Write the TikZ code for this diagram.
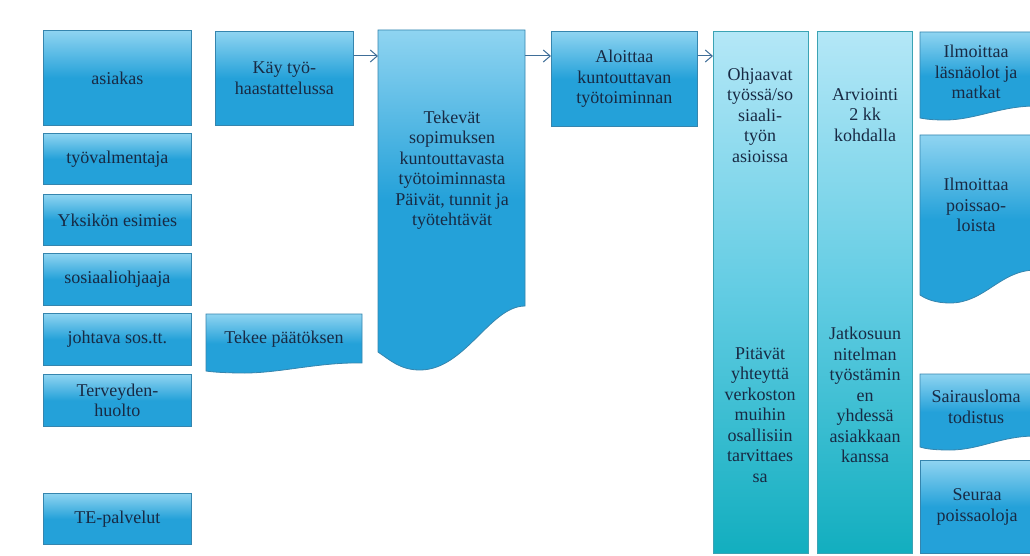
\documentclass[tikz,border=0pt]{standalone}
\usepackage{fontspec}
\setmainfont{Liberation Serif}
\usetikzlibrary{arrows.meta}

\definecolor{boxlight}{HTML}{8FD4F1}
\definecolor{boxdark}{HTML}{24A1D9}
\definecolor{boxline}{HTML}{3585AE}
\definecolor{coltop}{HTML}{B4E7F7}
\definecolor{colmid}{HTML}{62CCE3}
\definecolor{colbot}{HTML}{12AEBF}
\definecolor{colline}{HTML}{3BA3B4}
\definecolor{inktext}{HTML}{182A44}
\definecolor{flowline}{HTML}{3F6E98}

\tikzset{
	stepbox/.style={draw=boxline, line width=0.8pt, top color=boxlight, bottom color=boxdark, middle color=boxdark,
		anchor=north west, inner sep=0pt, text=inktext, align=center, font=\fontsize{18}{20.5}\selectfont},
	colbox/.style={draw=colline, line width=0.8pt, top color=coltop, bottom color=colbot, middle color=colmid,
		anchor=north west, inner sep=0pt},
	wavefill/.style={draw=boxline, line width=0.8pt, top color=boxlight, bottom color=boxdark, middle color=boxdark},
	frame/.style={anchor=north west, inner sep=0pt},
	steptext/.style={text=inktext, align=center, font=\fontsize{18}{20.5}\selectfont},
	flow/.style={draw=flowline, line width=1pt, -{Straight Barb[length=7pt,width=12pt]}}
}

\begin{document}
\begin{tikzpicture}[x=1pt,y=-1pt]
	\clip (0,0) rectangle (1030,556);
	\fill[white] (0,0) rectangle (1030,556);
	%Left column: who takes part
	\node[stepbox, minimum width=148pt, minimum height=95pt] (asiakas) at (43,30) {asiakas};
	\node[stepbox, minimum width=148pt, minimum height=51pt] (tyovalm) at (43,133) {työvalmentaja};
	\node[stepbox, minimum width=148pt, minimum height=51pt] (esimies) at (43,194) {Yksikön esimies};
	\node[stepbox, minimum width=148pt, minimum height=52pt] (sosohj) at (43,253) {sosiaaliohjaaja};
	\node[stepbox, minimum width=148pt, minimum height=52pt] (johtava) at (43,313) {johtava sos.tt.};
	\node[stepbox, minimum width=148pt, minimum height=52pt] (terveys) at (43,374) {Terveyden-\\huolto};
	\node[stepbox, minimum width=148pt, minimum height=51pt] (tepalv) at (43,493) {TE-palvelut};
	%Second column
	\node[stepbox, minimum width=138pt, minimum height=94pt] (kay) at (215,31) {Käy työ-\\haastattelussa};
	%Tekee paatoksen, wavy bottom
	\path[wavefill] (206,314) -- (362,314) -- (362,363)
		.. controls (320,362) and (280,373) .. (245,373)
		.. controls (225,373) and (212,372) .. (206,371) -- cycle;
	\node[frame, minimum width=156pt, minimum height=49pt] (paatos) at (206,314) {};
	\node[steptext] (paatostxt) at (284,339) {Tekee päätöksen};
	%Tekevat sopimuksen, wavy bottom
	\path[wavefill] (378,30) -- (525,30) -- (525,306)
		.. controls (490,306) and (465,370) .. (420,370)
		.. controls (400,370) and (390,360) .. (378,352) -- cycle;
	\node[frame, minimum width=147pt, minimum height=276pt] (tekevat) at (378,30) {};
	\node[steptext] (tekevattxt) at (452,170) {Tekevät\\sopimuksen\\kuntouttavasta\\työtoiminnasta\\Päivät, tunnit ja\\työtehtävät};
	\node[stepbox, minimum width=146pt, minimum height=95pt] (aloittaa) at (551,31) {Aloittaa\\kuntouttavan\\työtoiminnan};
	%Tall columns
	\node[colbox, minimum width=95pt, minimum height=522pt] (ohjaus) at (713,31) {};
	\node[colbox, minimum width=95pt, minimum height=522pt] (arvio) at (817,31) {};
	\node[steptext] (ohjaustxt) at (760,115) {Ohjaavat\\työssä/so\\siaali-\\työn\\asioissa};
	\node[steptext] (yhteystxt) at (760,415) {Pitävät\\yhteyttä\\verkoston\\muihin\\osallisiin\\tarvittaes\\sa};
	\node[steptext] (arviotxt) at (865,115) {Arviointi\\2 kk\\kohdalla};
	\node[steptext] (jatkotxt) at (865,395) {Jatkosuun\\nitelman\\työstämin\\en\\yhdessä\\asiakkaan\\kanssa};
	%Right column
	\path[wavefill] (920,32) -- (1036,32) -- (1036,106)
		.. controls (1000,106) and (975,120) .. (945,120)
		.. controls (932,120) and (925,119) .. (920,118) -- cycle;
	\node[frame, minimum width=116pt, minimum height=74pt] (lasna) at (920,32) {};
	\node[steptext] (lasnatxt) at (976,72) {Ilmoittaa\\läsnäolot ja\\matkat};
	\path[wavefill] (920,135) -- (1036,135) -- (1036,270)
		.. controls (1000,270) and (985,303) .. (950,303)
		.. controls (935,303) and (926,299) .. (920,295) -- cycle;
	\node[frame, minimum width=116pt, minimum height=135pt] (poissa) at (920,135) {};
	\node[steptext] (poissatxt) at (976,205) {Ilmoittaa\\poissao-\\loista};
	\path[wavefill] (920,374) -- (1036,374) -- (1036,436)
		.. controls (1000,436) and (980,450) .. (950,450)
		.. controls (935,450) and (926,449) .. (920,447) -- cycle;
	\node[frame, minimum width=116pt, minimum height=62pt] (sairaus) at (920,374) {};
	\node[steptext] (sairaustxt) at (976,407) {Sairausloma\\todistus};
	\node[stepbox, minimum width=116pt, minimum height=93pt] (seuraa) at (920,460) {};
	\node[steptext] (seuraatxt) at (977,507) {Seuraa\\poissaoloja};
	%Arrows along the top row
	\coordinate (row) at (0,56);
	\draw[flow] (kay.east |- row) -- (tekevat.west |- row);
	\draw[flow] (tekevat.east |- row) -- (aloittaa.west |- row);
	\draw[flow] (aloittaa.east |- row) -- (ohjaus.west |- row);
\end{tikzpicture}
\end{document}
